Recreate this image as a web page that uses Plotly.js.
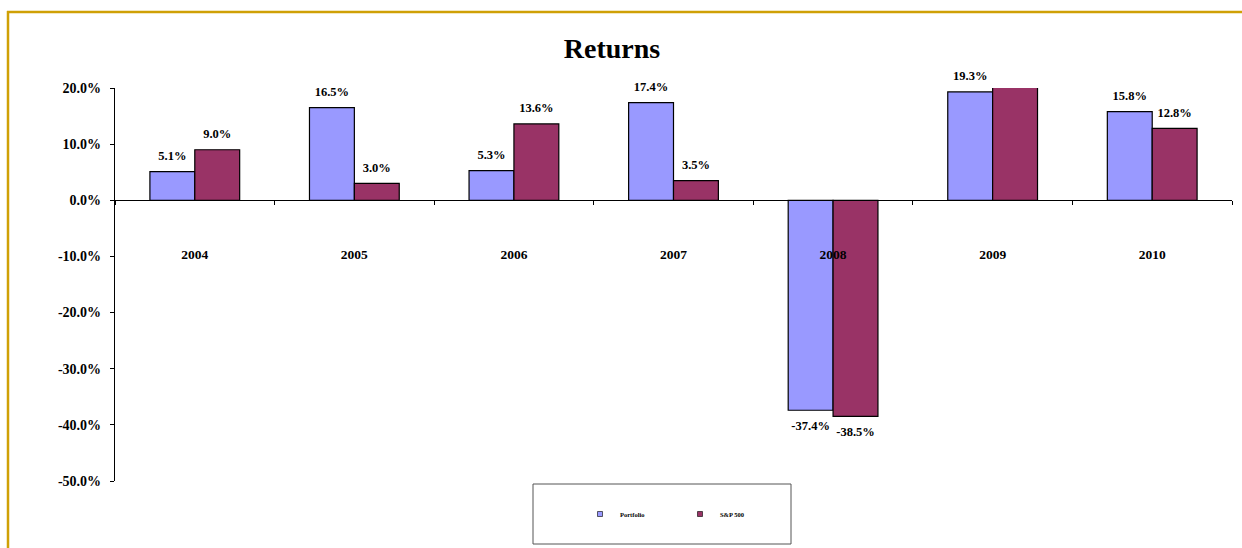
<!DOCTYPE html>
<html>
<head>
<meta charset="utf-8">
<script src="https://cdn.plot.ly/plotly-3.0.1.min.js"></script>
<style>
html,body{margin:0;padding:0;background:#fff;}
#chart{width:1242px;height:548px;}
</style>
</head>
<body>
<div id="chart"></div>
<script>
// ---- data ----
const years = ['2004', '2005', '2006', '2007', '2008', '2009', '2010'];
const portfolio = [5.1, 16.5, 5.3, 17.4, -37.4, 19.3, 15.8];
const sp500 = [9.0, 3.0, 13.6, 3.5, -38.5, 26.5, 12.8];
const seriesNames = ['Portfolio', 'S&P 500'];
const yTickVals = [20, 10, 0, -10, -20, -30, -40, -50];
const yTickText = ['20.0%', '10.0%', '0.0%', '-10.0%', '-20.0%', '-30.0%', '-40.0%', '-50.0%'];

// ---- layout helpers ----
const W = 1242, H = 548;
const M = {l: 115, r: 10, t: 88, b: 67};
const plotW = W - M.l - M.r, plotH = H - M.t - M.b;
const yMin = -50, yMax = 20;
const px2x = px => (px - M.l) / plotW;
const px2y = py => (H - M.b - py) / plotH;

const serif = 'Liberation Serif, Times New Roman, serif';
const colors = ['#9999FF', '#993366'];
const gold = '#CFA005';

function labels(vals) {
  return vals.map(v => (v > yMax || v < yMin) ? '' : v.toFixed(1) + '%');
}
function positions(vals) {
  return vals.map(v => v >= 0 ? 'top center' : 'bottom center');
}

const data = [];
[portfolio, sp500].forEach((vals, i) => {
  data.push({
    type: 'bar', x: years, y: vals, name: seriesNames[i],
    offsetgroup: 'g' + i, alignmentgroup: 'a',
    marker: {color: colors[i], line: {color: '#000', width: 1.2}},
    cliponaxis: true, hoverinfo: 'x+y', showlegend: false, legendgroup: 'g' + i
  });
});
[portfolio, sp500].forEach((vals, i) => {
  data.push({
    type: 'scatter', mode: 'markers+text', x: years,
    y: vals.map(v => Math.min(v, yMax)),
    text: labels(vals), textposition: positions(vals),
    marker: {size: vals.map(v => v >= 0 ? 12 : 15), opacity: 0,
             color: 'rgba(0,0,0,0)', line: {width: 0, color: 'rgba(0,0,0,0)'}},
    textfont: {family: serif, size: 12.5, color: '#000', weight: 'bold'},
    offsetgroup: 'g' + i, alignmentgroup: 'a',
    showlegend: false, cliponaxis: false, hoverinfo: 'skip'
  });
});
// legend entries (small square swatches like the original)
seriesNames.forEach((n, i) => {
  data.push({
    type: 'scatter', mode: 'markers', x: [null], y: [null], name: n,
    legendgroup: 'g' + i,
    marker: {symbol: 'square', size: 5, color: colors[i], line: {color: '#000', width: 0.6}},
    hoverinfo: 'skip'
  });
});

const layout = {
  width: W, height: H,
  margin: {l: M.l, r: M.r, t: M.t, b: M.b, pad: 0},
  paper_bgcolor: '#fff', plot_bgcolor: 'rgba(0,0,0,0)',
  barmode: 'group', bargap: 0.4375, bargroupgap: 0,
  scattermode: 'group', scattergap: 0.4375,
  title: {
    text: '<b>Returns</b>',
    font: {family: serif, size: 28, color: '#000'},
    x: 612 / W, xanchor: 'center',
    y: 1 - 48 / H, yanchor: 'middle'
  },
  xaxis: {
    type: 'category', anchor: 'free',
    position: (0 - yMin) / (yMax - yMin),
    showline: true, linecolor: '#000', linewidth: 1.3,
    ticks: 'outside', ticklen: 4, tickcolor: '#000', tickwidth: 1,
    tickson: 'boundaries', showgrid: false, zeroline: false,
    ticklabelstandoff: 41,
    tickfont: {family: serif, size: 13.5, color: '#000', weight: 'bold'}
  },
  yaxis: {
    range: [yMin, yMax], tickvals: yTickVals, ticktext: yTickText,
    showline: true, linecolor: '#000', linewidth: 1.3,
    ticks: 'outside', ticklen: 4, tickcolor: '#000', tickwidth: 1,
    showgrid: false, zeroline: false, ticklabelstandoff: 6,
    tickfont: {family: serif, size: 14, color: '#000', weight: 'bold'}
  },
  showlegend: true,
  legend: {
    orientation: 'h', x: px2x(580), xanchor: 'left',
    y: px2y(514), yanchor: 'middle',
    bgcolor: 'rgba(0,0,0,0)', borderwidth: 0,
    font: {family: serif, size: 6.5, color: '#000', weight: 'bold'},
    entrywidth: 55, entrywidthmode: 'pixels', itemclick: false, itemdoubleclick: false
  },
  shapes: [
    {type: 'rect', xref: 'paper', yref: 'paper',
     x0: px2x(533), x1: px2x(791), y0: px2y(484), y1: px2y(544),
     line: {color: '#555', width: 1}, fillcolor: 'rgba(0,0,0,0)'},
    {type: 'line', xref: 'paper', yref: 'paper',
     x0: px2x(7), x1: px2x(1242), y0: px2y(12), y1: px2y(12),
     line: {color: gold, width: 2.5}},
    {type: 'line', xref: 'paper', yref: 'paper',
     x0: px2x(8), x1: px2x(8), y0: px2y(11), y1: px2y(548),
     line: {color: gold, width: 2.5}}
  ]
};

Plotly.newPlot('chart', data, layout, {displayModeBar: false});
</script>
</body>
</html>
